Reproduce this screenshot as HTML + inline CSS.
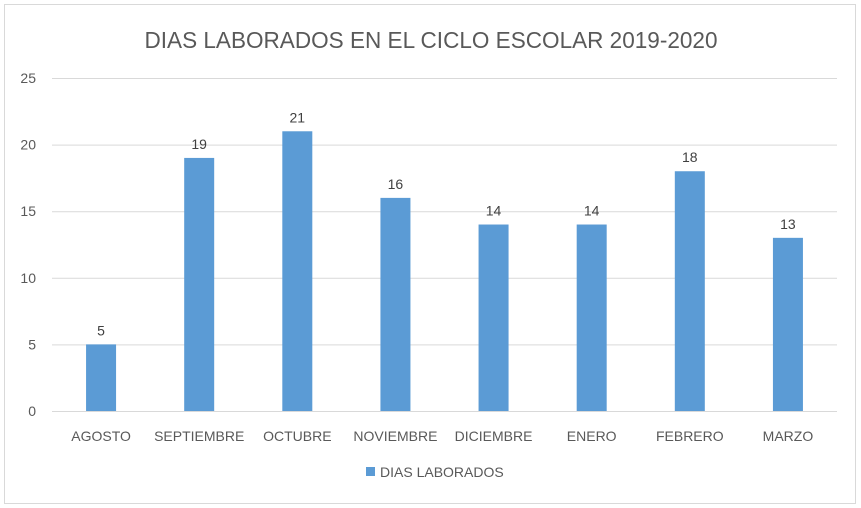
<!DOCTYPE html>
<html><head><meta charset="utf-8"><style>
html,body{margin:0;padding:0;background:#fff;}
svg{display:block;font-family:"Liberation Sans",sans-serif;}
</style></head><body>
<svg id="chart" width="861" height="508">
<rect x="4.5" y="4.5" width="851" height="499" fill="#fff" stroke="#d9d9d9"/>
<text x="431" y="48" text-anchor="middle" font-size="23" fill="#595959" textLength="573" lengthAdjust="spacingAndGlyphs">DIAS LABORADOS EN EL CICLO ESCOLAR 2019-2020</text>
<g id="grid"></g><g id="bars"></g><g id="labels"></g>
<rect x="366" y="467" width="9" height="9" fill="#5b9bd5"/>
<text x="380" y="477" font-size="14" fill="#595959">DIAS LABORADOS</text>
</svg>
<script>
const categories=["AGOSTO","SEPTIEMBRE","OCTUBRE","NOVIEMBRE","DICIEMBRE","ENERO","FEBRERO","MARZO"];
const values=[5,19,21,16,14,14,18,13];
const yTicks=[0,5,10,15,20,25];
const NS="http://www.w3.org/2000/svg";
const L=52,R=837,T=78,B=411,yMax=25;
const y=v=>B-(v/yMax)*(B-T);
const band=(R-L)/categories.length;
const xc=i=>L+band*(i+0.5);
function mk(tag,attrs,parent,text){const e=document.createElementNS(NS,tag);for(const k in attrs)e.setAttribute(k,attrs[k]);if(text!==undefined)e.textContent=text;document.getElementById(parent).appendChild(e);return e;}
yTicks.forEach(t=>{
 const l=mk("line",{x1:L,x2:R,y1:y(t)+0.5,y2:y(t)+0.5,stroke:"#d9d9d9","stroke-width":1},"grid");
 
 
 const tx=mk("text",{x:36,y:y(t)+5,"text-anchor":"end","font-size":14,fill:"#595959"},"grid",t);
 
 
});
const bw=30;
values.forEach((v,i)=>{
 const r=mk("rect",{x:xc(i)-bw/2,y:y(v),width:bw,height:B-y(v),fill:"#5b9bd5"},"bars");
 
 
 const dl=mk("text",{x:xc(i),y:y(v)-9,"text-anchor":"middle","font-size":14,fill:"#404040"},"labels",v);
 
 
 const cl=mk("text",{x:xc(i),y:441,"text-anchor":"middle","font-size":14,fill:"#595959"},"labels",categories[i]);
 
 
});
</script>
</body></html>
